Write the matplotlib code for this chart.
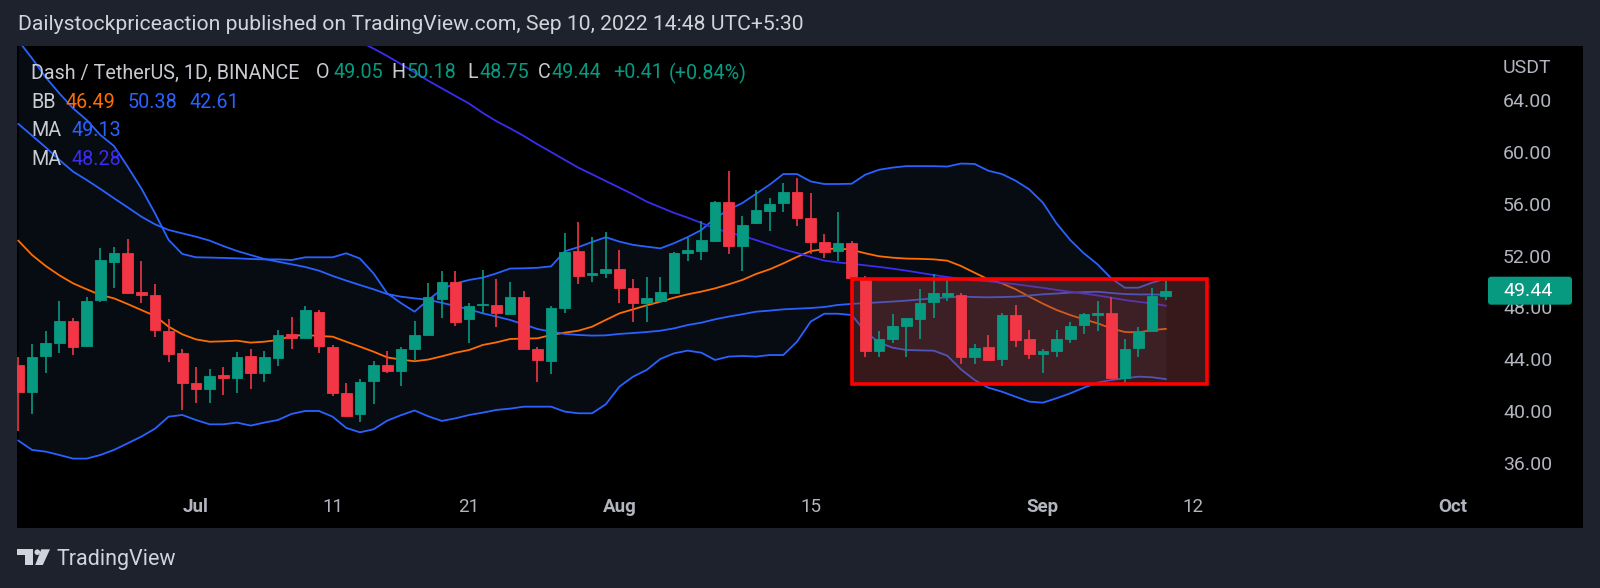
import numpy as np
import pandas as pd
import matplotlib
matplotlib.use("Agg")
import matplotlib.pyplot as plt
import matplotlib.dates as mdates
import matplotlib.transforms as mtransforms
from matplotlib.patches import Rectangle, Polygon, Circle, FancyBboxPatch

plt.rcParams['font.family'] = ['Roboto', 'DejaVu Sans']

# daily candles, first one is 2022-06-18
first_day = "2022-06-18"
opens = [43.70, 41.59, 44.40, 45.37, 47.13, 45.17, 48.70, 51.68, 52.35, 49.34,
         49.11, 46.33, 44.60, 42.29, 41.82, 42.93, 42.67, 44.42, 43.06, 44.22,
         46.12, 45.76, 47.82, 45.12, 41.57, 39.89, 42.49, 43.70, 43.26, 44.91,
         45.99, 48.77, 50.14, 47.23, 48.30, 48.34, 47.61, 48.95, 44.91, 44.01,
         48.11, 52.53, 50.68, 50.78, 51.14, 49.67, 48.46, 48.67, 49.29, 52.33,
         52.51, 53.31, 56.27, 52.92, 54.64, 55.62, 56.24, 57.04, 55.03, 53.20,
         52.51, 53.10, 50.39, 44.78, 45.68, 46.71, 47.23, 48.59, 49.06, 49.11,
         44.29, 45.12, 44.16, 47.56, 45.71, 44.52, 44.78, 45.68, 46.79, 47.56,
         47.74, 42.67, 44.99, 46.33, 49.05]
highs = [44.35, 45.32, 46.33, 48.65, 47.33, 48.93, 52.71, 52.84, 53.41, 51.71,
         49.93, 47.23, 44.91, 43.52, 43.39, 43.52, 44.68, 44.91, 44.78, 46.41,
         47.43, 48.26, 47.95, 45.25, 42.34, 42.62, 44.01, 44.81, 45.12, 47.13,
         50.01, 50.96, 50.96, 48.52, 51.04, 50.34, 50.14, 49.44, 45.12, 48.26,
         53.87, 54.77, 53.56, 53.97, 52.58, 50.34, 50.52, 50.52, 52.40, 53.54,
         54.82, 56.37, 58.66, 55.21, 57.22, 56.57, 57.76, 58.12, 56.96, 53.82,
         55.54, 53.30, 50.57, 46.33, 47.64, 47.31, 49.55, 50.73, 50.27, 49.24,
         45.30, 46.02, 47.74, 48.33, 46.40, 44.91, 46.40, 46.99, 47.74, 48.64,
         48.93, 45.68, 46.61, 49.62, 50.18]
lows = [38.63, 39.94, 43.06, 44.65, 44.45, 45.12, 48.54, 49.67, 49.24, 48.52,
        45.84, 43.96, 40.23, 40.74, 40.74, 41.41, 41.57, 41.87, 42.41, 43.65,
        44.94, 45.76, 44.65, 41.33, 39.71, 39.32, 40.66, 43.06, 42.11, 44.09,
        45.99, 47.36, 46.74, 45.43, 47.64, 46.66, 47.61, 44.91, 42.41, 42.98,
        47.69, 49.96, 50.14, 50.40, 48.52, 47.05, 47.05, 48.46, 49.29, 51.76,
        51.81, 53.23, 52.25, 50.99, 54.59, 54.08, 55.54, 54.46, 52.25, 52.00,
        51.76, 49.55, 44.29, 44.34, 45.43, 44.29, 45.68, 47.31, 48.67, 43.75,
        43.75, 44.03, 43.65, 45.12, 44.14, 43.11, 44.29, 45.43, 46.07, 46.35,
        42.67, 42.28, 44.29, 46.33, 48.75]
closes = [41.59, 44.32, 45.43, 47.13, 45.09, 48.65, 51.84, 52.35, 49.29, 49.08,
          46.41, 44.53, 42.29, 41.82, 42.85, 42.72, 44.29, 43.06, 44.32, 46.02,
          45.81, 47.95, 45.19, 41.57, 39.76, 42.41, 43.70, 43.26, 44.94, 46.02,
          48.93, 50.14, 47.05, 48.26, 48.38, 47.69, 48.98, 44.91, 44.09, 48.13,
          52.43, 50.60, 50.78, 51.14, 49.62, 48.46, 48.85, 49.34, 52.33, 52.58,
          53.36, 56.27, 52.92, 54.52, 55.67, 56.14, 57.04, 55.03, 53.20, 52.46,
          53.10, 50.40, 44.81, 45.68, 46.71, 47.31, 48.52, 49.24, 49.24, 44.29,
          44.99, 44.09, 47.56, 45.63, 44.52, 44.81, 45.71, 46.71, 47.61, 47.74,
          42.67, 44.94, 46.33, 49.03, 49.44]

# indicator lines
bb_upper = [68.75, 67.39, 65.92, 64.69, 63.53, 62.63, 61.47, 60.62, 59.02, 57.35,
            55.42, 53.36, 52.28, 52.02, 52.00, 51.97, 51.94, 51.89, 51.86, 51.86,
            51.81, 52.02, 52.02, 52.02, 52.33, 51.93, 50.78, 49.24, 48.49, 47.82,
            48.72, 49.55, 50.01, 50.27, 50.45, 50.78, 51.15, 51.17, 51.21, 51.32,
            52.48, 52.81, 53.20, 53.57, 53.23, 52.98, 52.84, 52.71, 53.11, 53.58,
            54.13, 55.04, 55.70, 56.21, 56.92, 57.63, 58.45, 58.45, 57.88, 57.68,
            57.68, 57.70, 58.40, 58.78, 58.95, 59.06, 59.06, 59.06, 59.03, 59.26,
            59.23, 58.71, 58.45, 57.94, 57.27, 56.24, 54.64, 53.36, 52.33, 51.48,
            50.40, 49.67, 49.67, 50.06, 50.38]
bb_basis = [53.30, 52.20, 51.35, 50.63, 50.01, 49.55, 49.11, 48.85, 48.41, 47.95,
            47.49, 46.66, 46.07, 45.68, 45.50, 45.53, 45.58, 45.43, 45.50, 45.63,
            45.94, 46.02, 45.94, 45.89, 45.50, 45.12, 44.73, 44.29, 44.12, 43.99,
            44.12, 44.37, 44.65, 44.86, 45.25, 45.45, 45.71, 45.74, 45.76, 46.02,
            46.20, 46.35, 46.66, 47.18, 47.69, 48.00, 48.31, 48.59, 48.90, 49.16,
            49.37, 49.62, 49.93, 50.27, 50.73, 51.09, 51.55, 52.05, 52.50, 52.65,
            52.70, 52.60, 52.33, 52.10, 51.99, 51.92, 51.90, 51.86, 51.76, 51.35,
            50.83, 50.32, 50.01, 49.55, 48.98, 48.44, 47.95, 47.56, 47.23, 46.92,
            46.53, 46.25, 46.22, 46.40, 46.49]
bb_lower = [37.86, 37.14, 37.01, 36.75, 36.47, 36.47, 36.75, 37.14, 37.65, 38.17,
            38.78, 39.71, 39.84, 39.45, 39.12, 39.12, 39.25, 39.02, 39.25, 39.45,
            39.92, 40.15, 40.15, 39.71, 38.84, 38.50, 38.73, 39.40, 39.82, 40.19,
            39.74, 39.38, 39.58, 39.84, 40.02, 40.23, 40.33, 40.48, 40.48, 40.48,
            40.10, 39.97, 39.97, 40.66, 42.03, 42.80, 43.32, 44.17, 44.60, 44.81,
            44.65, 44.09, 44.35, 44.40, 44.35, 44.47, 44.47, 45.50, 47.05, 47.66,
            47.66, 47.56, 46.29, 45.43, 45.04, 44.86, 44.83, 44.81, 44.42, 43.37,
            42.54, 41.95, 41.64, 41.25, 40.87, 40.79, 41.13, 41.51, 41.95, 42.34,
            42.54, 42.67, 42.80, 42.75, 42.61]
ma_fast = [62.32, 61.42, 60.51, 59.54, 58.64, 57.99, 57.30, 56.58, 55.88, 55.16,
           54.57, 54.13, 53.87, 53.61, 53.31, 52.89, 52.51, 52.20, 51.89, 51.68,
           51.48, 51.27, 50.99, 50.58, 50.22, 49.88, 49.55, 49.18, 48.98, 48.85,
           48.74, 48.50, 48.26, 48.00, 47.69, 47.44, 47.18, 46.84, 46.48, 46.28,
           46.10, 46.02, 45.97, 45.99, 46.10, 46.17, 46.25, 46.35, 46.53, 46.79,
           46.97, 47.23, 47.44, 47.62, 47.82, 47.90, 48.00, 48.05, 48.10, 48.18,
           48.34, 48.42, 48.48, 48.54, 48.60, 48.67, 48.76, 48.85, 48.92, 48.98,
           48.95, 48.93, 48.95, 48.98, 49.07, 49.16, 49.22, 49.29, 49.33, 49.36,
           49.26, 49.18, 49.15, 49.15, 49.13]
# slow MA is above the visible area before Jul 12
ma_slow = [np.nan] * 24 + [
           69.25, 68.68, 68.14, 67.57, 66.95, 66.31, 65.66, 65.07, 64.48, 63.89,
           63.17, 62.53, 61.98, 61.39, 60.75, 60.15, 59.54, 58.94, 58.43, 57.91,
           57.40, 56.88, 56.32, 55.88, 55.45, 55.08, 54.67, 54.25, 53.93, 53.68,
           53.35, 53.00, 52.64, 52.35, 52.05, 51.76, 51.62, 51.52, 51.40, 51.28,
           51.14, 50.99, 50.82, 50.65, 50.50, 50.35, 50.25, 50.17, 50.05, 49.94,
           49.80, 49.66, 49.50, 49.36, 49.22, 49.07, 48.90, 48.72, 48.58, 48.46,
           48.28]

price_ticks = [36, 40, 44, 48, 52, 56, 60, 64]
date_ticks = ["2022-07-01", "2022-07-11", "2022-07-21", "2022-08-01",
              "2022-08-15", "2022-09-01", "2022-09-12", "2022-10-01"]
date_tick_labels = ["Jul", "11", "21", "Aug", "15", "Sep", "12", "Oct"]
month_labels = ["Jul", "Aug", "Sep", "Oct"]

# red range box
box_start = "2022-08-18"
box_end = "2022-09-13"
box_low = 42.27
box_high = 50.34

header = "Dailystockpriceaction published on TradingView.com, Sep 10, 2022 14:48 UTC+5:30"

# colours
bg = '#1e222d'
up_col = '#089981'
down_col = '#f23645'
band_col = '#2962ff'
basis_col = '#ff6d00'
slow_col = '#3b2cf2'
label_col = '#b2b5be'
text_col = '#c9cbd1'

W, H = 1600, 588
fig = plt.figure(figsize=(W / 100, H / 100), dpi=100, facecolor=bg)
ax = fig.add_axes([17 / W, 60 / H, 1566 / W, 482 / H])
ax.set_facecolor('black')
for s in ax.spines.values():
    s.set_visible(False)
ax.set_xticks([])
ax.set_yticks([])

dates = pd.date_range(first_day, periods=len(closes))
x = mdates.date2num(dates)
o = np.array(opens)
c = np.array(closes)
h = np.array(highs)
l = np.array(lows)

jul1 = mdates.date2num(pd.Timestamp("2022-07-01"))
ax.set_xlim(jul1 - 13.10, jul1 + 101.54)
ax.set_ylim(31.11, 68.34)

# bollinger fill + lines
ax.fill_between(x, bb_lower, bb_upper, color='#070b12', lw=0, zorder=1)
ax.plot(x, bb_upper, color=band_col, lw=1.3, zorder=2)
ax.plot(x, bb_lower, color=band_col, lw=1.3, zorder=2)
ax.plot(x, bb_basis, color=basis_col, lw=1.3, zorder=2)
ax.plot(x, ma_fast, color=band_col, lw=1.3, zorder=2)
ax.plot(x, ma_slow, color=slow_col, lw=1.3, zorder=2)

# box fill under candles, border on top
bx0 = mdates.date2num(pd.Timestamp(box_start))
bx1 = mdates.date2num(pd.Timestamp(box_end))
ax.add_patch(Rectangle((bx0, box_low), bx1 - bx0, box_high - box_low,
                       facecolor=(0.55, 0.25, 0.27, 0.40), edgecolor='none', zorder=3))

# candles
cols = np.where(c >= o, up_col, down_col)
ax.vlines(x, l, h, colors=cols, lw=1.2, zorder=4)
ax.bar(x, np.abs(c - o), bottom=np.minimum(o, c), width=0.78, color=cols,
       edgecolor=cols, linewidth=0.6, zorder=5)

ax.add_patch(Rectangle((bx0, box_low), bx1 - bx0, box_high - box_low,
                       facecolor='none', edgecolor='#ff0000', lw=2.6, zorder=6))

# price scale
ty = mtransforms.blended_transform_factory(ax.transAxes, ax.transData)
lab_x = (1503 - 17) / 1566
for p in price_ticks:
    ax.text(lab_x, p, f"{p:.2f}", transform=ty, ha='left', va='center',
            color=label_col, fontsize=14, zorder=7)
ax.text(lab_x, (528 - 68) / 482, "USDT", transform=ax.transAxes, ha='left',
        va='center', color=label_col, fontsize=14)

# last price tag, placed in figure pixels at the last close
pix = mtransforms.Affine2D().scale(1, -1).translate(0, H)
tag_y = H - ax.transData.transform((x[-1], closes[-1]))[1]
fig.add_artist(FancyBboxPatch((1488, tag_y - 14), 84, 28,
                              boxstyle="round,pad=0,rounding_size=3",
                              transform=pix, facecolor=up_col, edgecolor='none',
                              zorder=8))
fig.text(1503 / W, 1 - tag_y / H, f"{closes[-1]:.2f}", color='white', fontsize=14,
         ha='left', va='center', zorder=9)

# time scale
tx = mtransforms.blended_transform_factory(ax.transData, ax.transAxes)
for d, lab in zip(date_ticks, date_tick_labels):
    ax.text(mdates.date2num(pd.Timestamp(d)), (528 - 507) / 482, lab, transform=tx,
            ha='center', va='center', color=label_col, fontsize=13.5,
            fontweight='bold' if lab in month_labels else 'normal')

# legend rows (pixel positions from the top-left of the image)
def put(px, py, s, color, size=14.2, **kw):
    fig.text(px / W, 1 - py / H, s, color=color, fontsize=size, ha='left',
             va='center', **kw)

r1, r2, r3, r4 = 73, 102.5, 131, 159.5
put(31, r1, "Dash / TetherUS, 1D, BINANCE", text_col)
put(316, r1, "O", text_col)
put(333, r1, "49.05", up_col)
put(391, r1, "H", text_col)
put(407, r1, "50.18", up_col)
put(467, r1, "L", text_col)
put(479, r1, "48.75", up_col)
put(538, r1, "C", text_col)
put(552, r1, "49.44", up_col)
put(613, r1, "+0.41", up_col)
put(669, r1, "(+0.84%)", up_col)

put(31, r2, "BB", text_col)
put(66, r2, "46.49", basis_col)
put(128, r2, "50.38", band_col)
put(189, r2, "42.61", band_col)
put(31, r3, "MA", text_col)
put(71.7, r3, "49.13", band_col)
put(31, r4, "MA", text_col)
put(71.7, r4, "48.28", slow_col)

put(18, 24, header, '#d1d4dc', size=15.2)

# TradingView logo at the bottom
logo_col = '#d1d4dc'
fig.add_artist(Polygon([(16.7, 549.3), (33.3, 549.3), (33.3, 565), (24.5, 565),
                        (24.5, 554.5), (16.7, 554.5)], closed=True, transform=pix,
                       facecolor=logo_col, edgecolor='none'))
fig.add_artist(Circle((37.3, 552.2), 2.8, transform=pix, facecolor=logo_col,
                      edgecolor='none'))
fig.add_artist(Polygon([(41.2, 549.3), (50, 549.3), (42.8, 565), (35.2, 565)],
                       closed=True, transform=pix, facecolor=logo_col, edgecolor='none'))
fig.text(56.7 / W, 1 - 564.5 / H, "TradingView", color=logo_col, fontsize=15.5,
         ha='left', va='baseline')

fig.savefig("out.png", dpi=100, facecolor=bg)
